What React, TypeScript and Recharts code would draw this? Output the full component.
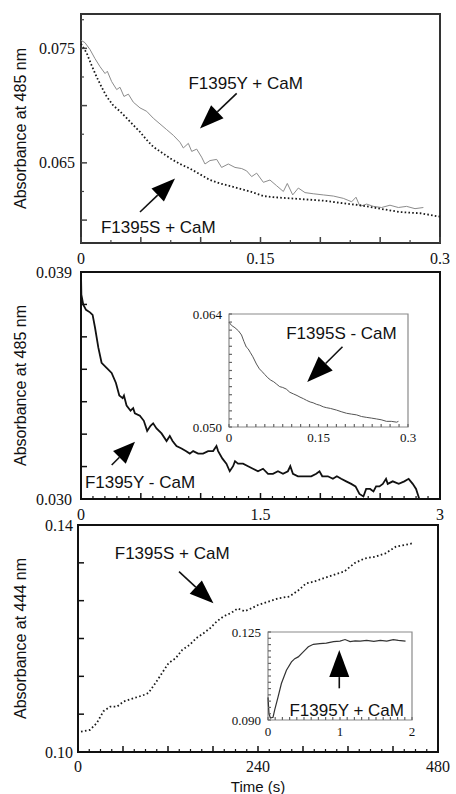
import { LineChart, Line, XAxis, YAxis, ReferenceArea, ReferenceLine, ReferenceDot } from "recharts"

const SERIF = '"Liberation Serif", "Times New Roman", serif'
const SANS = '"Liberation Sans", Arial, Helvetica, sans-serif'

// top panel: absorbance at 485 nm, with CaM (0 - 0.3 s)
const topTimeY = [0, 0.0033, 0.0075, 0.0117, 0.0159, 0.0201, 0.022, 0.0256, 0.0298, 0.0326, 0.0359, 0.0396, 0.0437, 0.0493, 0.0549, 0.0604, 0.066, 0.0716, 0.0772, 0.0827, 0.0855, 0.0897, 0.0925, 0.0967, 0.1008, 0.1036, 0.1078, 0.1134, 0.1175, 0.1231, 0.1287, 0.1343, 0.1384, 0.1426, 0.1468, 0.1524, 0.1579, 0.1635, 0.1691, 0.1724, 0.1769, 0.1816, 0.1872, 0.1941, 0.2025, 0.2109, 0.2192, 0.2262, 0.2298, 0.2331, 0.2387, 0.2443, 0.2512, 0.2582, 0.2652, 0.2721, 0.2791, 0.2861]
const f1395yCaM = [0.0757, 0.0755, 0.0749, 0.0741, 0.0734, 0.0728, 0.073, 0.0721, 0.0714, 0.0716, 0.0708, 0.071, 0.0703, 0.0698, 0.0695, 0.0689, 0.0684, 0.0679, 0.0674, 0.0668, 0.0663, 0.0667, 0.066, 0.0662, 0.0655, 0.0649, 0.0652, 0.0653, 0.0646, 0.0649, 0.0646, 0.0645, 0.0643, 0.0638, 0.0641, 0.0633, 0.0635, 0.063, 0.0625, 0.0632, 0.0622, 0.0628, 0.0624, 0.0623, 0.0622, 0.0621, 0.0619, 0.0616, 0.062, 0.0612, 0.0614, 0.0612, 0.0611, 0.0613, 0.0611, 0.0612, 0.061, 0.0611]
const topTimeS = [0, 0.0047, 0.0089, 0.0131, 0.0173, 0.0214, 0.027, 0.0326, 0.0382, 0.0437, 0.0493, 0.0549, 0.0604, 0.066, 0.0744, 0.0827, 0.0911, 0.0994, 0.1078, 0.1162, 0.1273, 0.1412, 0.1524, 0.1607, 0.1747, 0.1886, 0.2025, 0.2164, 0.2331, 0.2498, 0.2666, 0.2833, 0.3]
const f1395sCaM = [0.0754, 0.0746, 0.0735, 0.0725, 0.0716, 0.0708, 0.07, 0.0695, 0.0689, 0.0683, 0.0677, 0.067, 0.0664, 0.066, 0.0654, 0.0649, 0.0645, 0.064, 0.0635, 0.0632, 0.0629, 0.0625, 0.0621, 0.062, 0.0619, 0.0618, 0.0617, 0.0615, 0.0613, 0.061, 0.0607, 0.0606, 0.0603]

// middle panel: 485 nm without CaM (0 - 3 s), inset 0 - 0.3 s
const midTime = [0, 0.003, 0.019, 0.042, 0.075, 0.097, 0.117, 0.145, 0.172, 0.214, 0.256, 0.292, 0.32, 0.348, 0.359, 0.381, 0.414, 0.436, 0.45, 0.492, 0.525, 0.553, 0.581, 0.603, 0.631, 0.673, 0.715, 0.742, 0.765, 0.798, 0.84, 0.876, 0.909, 0.937, 0.979, 1.02, 1.062, 1.104, 1.132, 1.146, 1.182, 1.215, 1.243, 1.271, 1.287, 1.312, 1.354, 1.396, 1.437, 1.479, 1.521, 1.563, 1.604, 1.646, 1.688, 1.729, 1.749, 1.771, 1.813, 1.868, 1.924, 1.966, 1.993, 2.016, 2.063, 2.105, 2.138, 2.174, 2.216, 2.258, 2.294, 2.327, 2.36, 2.383, 2.416, 2.444, 2.466, 2.494, 2.522, 2.549, 2.563, 2.605, 2.655, 2.702, 2.738, 2.772, 2.8, 2.827]
const f1395yNoCaM = [0.0389, 0.0381, 0.0377, 0.0375, 0.0374, 0.0373, 0.0368, 0.036, 0.0354, 0.0352, 0.035, 0.0346, 0.0341, 0.034, 0.0341, 0.0337, 0.0335, 0.0336, 0.0334, 0.0333, 0.0331, 0.0327, 0.0329, 0.033, 0.0328, 0.0326, 0.0323, 0.0325, 0.0323, 0.0321, 0.032, 0.0319, 0.0318, 0.0319, 0.0318, 0.0318, 0.0319, 0.0319, 0.0321, 0.0319, 0.0316, 0.0314, 0.0311, 0.0313, 0.0315, 0.0314, 0.0314, 0.0313, 0.0312, 0.0311, 0.0312, 0.031, 0.031, 0.0311, 0.031, 0.0311, 0.0313, 0.031, 0.0309, 0.0309, 0.0309, 0.031, 0.0311, 0.0309, 0.0309, 0.0308, 0.0309, 0.0308, 0.0307, 0.0306, 0.0305, 0.0302, 0.0301, 0.0304, 0.0304, 0.0303, 0.0305, 0.0305, 0.0306, 0.0308, 0.0306, 0.0307, 0.0306, 0.0307, 0.0308, 0.0306, 0.0304, 0.03]
const insetTimeS = [0, 0.004, 0.01, 0.016, 0.021, 0.025, 0.029, 0.032, 0.036, 0.04, 0.046, 0.051, 0.055, 0.06, 0.065, 0.07, 0.075, 0.08, 0.085, 0.09, 0.096, 0.102, 0.108, 0.114, 0.119, 0.125, 0.13, 0.136, 0.141, 0.147, 0.152, 0.158, 0.163, 0.17, 0.18, 0.188, 0.197, 0.205, 0.214, 0.222, 0.23, 0.239, 0.247, 0.255, 0.264, 0.272, 0.281, 0.284]
const f1395sNoCaM = [0.063, 0.0626, 0.0623, 0.0619, 0.0614, 0.0606, 0.0599, 0.0597, 0.0592, 0.0587, 0.0578, 0.0572, 0.0569, 0.0565, 0.0561, 0.0558, 0.0556, 0.0553, 0.055, 0.0549, 0.0547, 0.0543, 0.0541, 0.0539, 0.0537, 0.0535, 0.0533, 0.0531, 0.053, 0.0528, 0.0527, 0.0525, 0.0524, 0.0523, 0.0521, 0.0519, 0.0517, 0.0516, 0.0515, 0.0513, 0.0512, 0.0511, 0.051, 0.0509, 0.0507, 0.0507, 0.0506, 0.0507]

// bottom panel: 444 nm (0 - 480 s), inset 0 - 2 s
const lowTime = [4, 16, 25, 34, 43, 52, 61, 75, 89, 94, 103, 112, 121, 130, 139, 149, 158, 167, 176, 185, 194, 204, 213, 222, 231, 240, 254, 268, 282, 295, 304, 314, 327, 341, 355, 369, 382, 396, 410, 424, 437, 447]
const f1395s444 = [0.1036, 0.1039, 0.1051, 0.1072, 0.108, 0.108, 0.1089, 0.1095, 0.1101, 0.1104, 0.1121, 0.1139, 0.1157, 0.1165, 0.118, 0.1189, 0.1201, 0.1209, 0.1218, 0.123, 0.1239, 0.1245, 0.1253, 0.1248, 0.1253, 0.1259, 0.1265, 0.1271, 0.1274, 0.1286, 0.1297, 0.13, 0.1306, 0.1312, 0.1318, 0.1333, 0.1341, 0.1344, 0.135, 0.1362, 0.1365, 0.1368]
const insetTimeY = [0, 0.014, 0.033, 0.07, 0.093, 0.14, 0.186, 0.256, 0.326, 0.372, 0.42, 0.49, 0.56, 0.63, 0.72, 0.81, 0.91, 1.0, 1.07, 1.14, 1.21, 1.28, 1.37, 1.47, 1.56, 1.65, 1.74, 1.81, 1.91]
const f1395y444 = [0.099, 0.0925, 0.0908, 0.0911, 0.094, 0.0992, 0.1045, 0.1098, 0.1131, 0.1144, 0.1151, 0.1171, 0.1191, 0.1201, 0.1204, 0.1206, 0.1212, 0.1214, 0.122, 0.1212, 0.1215, 0.1214, 0.1217, 0.1213, 0.1217, 0.1214, 0.122, 0.1217, 0.1214]

// tick labels
const topXLabels = [0, 0.15, 0.3]
const topYLabels = [0.065, 0.075]
const midXLabels = [0, 1.5, 3]
const midYLabels = [0.03, 0.039]
const lowXLabels = [0, 240, 480]
const lowYLabels = [0.1, 0.14]
const inset1XLabels = [0, 0.15, 0.3]
const inset1YLabels = [0.05, 0.064]
const inset2XLabels = [0, 1, 2]
const inset2YLabels = [0.09, 0.125]

const steps = (a: number, b: number, n: number) =>
  Array.from({ length: n + 1 }, (_, i) => +(a + ((b - a) * i) / n).toFixed(6))
const has = (arr: number[], v: number) => arr.some((a) => Math.abs(a - v) < 1e-7)
const pts = (xs: number[], ys: number[]) => xs.map((x, i) => ({ x, y: ys[i] }))

const xTick = (labels: number[], majors: number[], gap: number, size: number, fmt: (v: number) => string, color = "#111") =>
  (p: any) => {
    const v = p.payload.value
    const base = p.y - gap
    const big = has(majors, v)
    return (
      <g>
        <line x1={p.x} x2={p.x} y1={base} y2={base - (big ? 6 : 3)} stroke={color} strokeWidth={big ? 1.5 : 1.2} />
        {has(labels, v) && (
          <text x={p.x} y={p.y} dy="0.71em" textAnchor="middle" fontFamily={SERIF} fontSize={size} fill="#111">
            {fmt(v)}
          </text>
        )}
      </g>
    )
  }

const yTick = (labels: number[], majors: number[], gap: number, size: number, fmt: (v: number) => string, color = "#111") =>
  (p: any) => {
    const v = p.payload.value
    const base = p.x + gap
    const big = has(majors, v)
    return (
      <g>
        <line x1={base} x2={base + (big ? 6 : 3)} y1={p.y} y2={p.y} stroke={color} strokeWidth={big ? 1.5 : 1.2} />
        {has(labels, v) && (
          <text x={p.x} y={p.y} dy="0.35em" textAnchor="end" fontFamily={SERIF} fontSize={size} fill="#111">
            {fmt(v)}
          </text>
        )}
      </g>
    )
  }

const arrow = (head = 24, half = 9) => (p: any) => {
  const { x1, y1, x2, y2 } = p
  const len = Math.hypot(x2 - x1, y2 - y1) || 1
  const ux = (x2 - x1) / len
  const uy = (y2 - y1) / len
  const bx = x2 - ux * head
  const by = y2 - uy * head
  return (
    <g>
      <line x1={x1} y1={y1} x2={bx} y2={by} stroke="#111" strokeWidth={1.6} />
      <polygon points={`${x2},${y2} ${bx - uy * half},${by + ux * half} ${bx + uy * half},${by - ux * half}`} fill="#000" />
    </g>
  )
}

const note = (value: string, size = 17) => ({ value, position: "center" as const, fontSize: size, fontFamily: SANS, fill: "#111" })

const yTitle = (value: string) => ({
  value,
  angle: -90,
  position: "insideLeft" as const,
  offset: 20,
  style: { textAnchor: "middle" },
  fontSize: 16,
  fontFamily: SANS,
  fill: "#111",
})

const abs = (left: number, top: number) => ({ position: "absolute" as const, left, top })

function TopPanel() {
  return (
    <div style={abs(0, 0)}>
      <LineChart width={456} height={275} margin={{ top: 14, right: 16, bottom: 2, left: 0 }}>
        <XAxis dataKey="x" type="number" domain={[0, 0.3]} ticks={steps(0, 0.3, 12)} interval={0} axisLine={false} tickLine={false} tickSize={0} tickMargin={10} height={30}
          tick={xTick(topXLabels, steps(0, 0.3, 6), 10, 16, (v) => String(v), "#444")} />
        <YAxis type="number" domain={[0.058, 0.078]} ticks={steps(0.06, 0.0775, 7)} interval={0} axisLine={false} tickLine={false} tickSize={0} tickMargin={6} width={81}
          tick={yTick(topYLabels, [0.06, 0.065, 0.07, 0.075], 6, 16, (v) => v.toFixed(3), "#444")} label={yTitle("Absorbance at 485 nm")} />
        <Line data={pts(topTimeY, f1395yCaM)} dataKey="y" type="linear" dot={false} stroke="#8c8c8c" strokeWidth={1} isAnimationActive={false} />
        <Line data={pts(topTimeS, f1395sCaM)} dataKey="y" type="linear" dot={false} stroke="#1a1a1a" strokeWidth={1.8} strokeDasharray="1.6 2.2" isAnimationActive={false} />
        <ReferenceArea x1={0} x2={0.3} y1={0.058} y2={0.078} fill="none" stroke="#333" strokeWidth={2} ifOverflow="visible" />
        <ReferenceLine segment={[{ x: 0.1301, y: 0.07107 }, { x: 0.0994, y: 0.06801 }]} shape={arrow()} />
        <ReferenceLine segment={[{ x: 0.0493, y: 0.06071 }, { x: 0.0786, y: 0.06363 }]} shape={arrow()} />
        <ReferenceDot x={0.1376} y={0.07199} r={0} fill="none" stroke="none" label={note("F1395Y + CaM")} />
        <ReferenceDot x={0.0646} y={0.0594} r={0} fill="none" stroke="none" label={note("F1395S + CaM")} />
      </LineChart>
    </div>
  )
}

function MidPanel() {
  return (
    <div style={abs(0, 262)}>
      <LineChart width={456} height={270} margin={{ top: 10, right: 16, bottom: 3, left: 0 }}>
        <XAxis dataKey="x" type="number" domain={[0, 3]} ticks={steps(0, 3, 30)} interval={0} axisLine={false} tickLine={false} tickSize={0} tickMargin={10} height={30}
          tick={xTick(midXLabels, steps(0, 3, 6), 10, 16, (v) => String(v))} />
        <YAxis type="number" domain={[0.03, 0.039]} ticks={steps(0.03, 0.039, 7)} interval={0} axisLine={false} tickLine={false} tickSize={0} tickMargin={9} width={81}
          tick={yTick(midYLabels, steps(0.03, 0.039, 7), 9, 16, (v) => v.toFixed(3))} label={yTitle("Absorbance at 485 nm")} />
        <Line data={pts(midTime, f1395yNoCaM)} dataKey="y" type="linear" dot={false} stroke="#111" strokeWidth={1.8} isAnimationActive={false} />
        <ReferenceArea x1={0} x2={3} y1={0.03} y2={0.039} fill="none" stroke="#111" strokeWidth={2} ifOverflow="visible" />
        <ReferenceLine segment={[{ x: 0.2565, y: 0.03135 }, { x: 0.4513, y: 0.03227 }]} shape={arrow(22, 9)} />
        <ReferenceDot x={0.493} y={0.03069} r={0} fill="none" stroke="none" label={note("F1395Y - CaM")} />
      </LineChart>
    </div>
  )
}

function MidInset() {
  return (
    <div style={abs(149, 304)}>
      <LineChart width={270} height={150} margin={{ top: 10, right: 11, bottom: 5, left: 0 }}>
        <XAxis dataKey="x" type="number" domain={[0, 0.3]} ticks={steps(0, 0.3, 20)} interval={0} axisLine={false} tickLine={false} tickSize={0} tickMargin={6} height={22}
          tick={xTick(inset1XLabels, [], 6, 13, (v) => String(v), "#666")} />
        <YAxis type="number" domain={[0.05, 0.064]} ticks={steps(0.05, 0.064, 14)} interval={0} axisLine={false} tickLine={false} tickSize={0} tickMargin={7} width={80}
          tick={yTick(inset1YLabels, [], 7, 13, (v) => v.toFixed(3), "#666")} />
        <Line data={pts(insetTimeS, f1395sNoCaM)} dataKey="y" type="linear" dot={false} stroke="#555" strokeWidth={1} isAnimationActive={false} />
        <ReferenceArea x1={0} x2={0.3} y1={0.05} y2={0.064} fill="none" stroke="#8a8a8a" strokeWidth={1.2} ifOverflow="visible" />
        <ReferenceLine segment={[{ x: 0.1902, y: 0.05994 }, { x: 0.1311, y: 0.05559 }]} shape={arrow(26, 10)} />
        <ReferenceDot x={0.1885} y={0.06168} r={0} fill="none" stroke="none" label={note("F1395S - CaM")} />
      </LineChart>
    </div>
  )
}

function LowPanel() {
  return (
    <div style={abs(0, 515)}>
      <LineChart width={456} height={279} margin={{ top: 10, right: 18, bottom: 0, left: 0 }}>
        <XAxis dataKey="x" type="number" domain={[0, 480]} ticks={steps(0, 480, 32)} interval={0} axisLine={false} tickLine={false} tickSize={0} tickMargin={9} height={42}
          tick={xTick(lowXLabels, steps(0, 480, 8), 9, 16, (v) => String(v))}
          label={{ value: "Time (s)", position: "insideBottom", offset: 2, fontSize: 15, fontFamily: SANS, fill: "#111" }} />
        <YAxis type="number" domain={[0.1, 0.14]} ticks={steps(0.1, 0.14, 6)} interval={0} axisLine={false} tickLine={false} tickSize={0} tickMargin={5} width={78}
          tick={yTick(lowYLabels, steps(0.1, 0.14, 6), 5, 16, (v) => v.toFixed(2))} label={yTitle("Absorbance at 444 nm")} />
        <Line data={pts(lowTime, f1395s444)} dataKey="y" type="linear" dot={false} stroke="#1a1a1a" strokeWidth={1.8} strokeDasharray="1.6 2.4" isAnimationActive={false} />
        <ReferenceArea x1={0} x2={480} y1={0.1} y2={0.14} fill="none" stroke="#111" strokeWidth={2} ifOverflow="visible" />
        <ReferenceLine segment={[{ x: 134.7, y: 0.13177 }, { x: 180.6, y: 0.1262 }]} shape={arrow(24, 9)} />
        <ReferenceDot x={125.6} y={0.135} r={0} fill="none" stroke="none" label={note("F1395S + CaM")} />
      </LineChart>
    </div>
  )
}

function LowInset() {
  return (
    <div style={abs(188, 621)}>
      <LineChart width={240} height={125} margin={{ top: 11, right: 16, bottom: 6, left: 0 }}>
        <XAxis dataKey="x" type="number" domain={[0, 2]} ticks={steps(0, 2, 20)} interval={0} axisLine={false} tickLine={false} tickSize={0} tickMargin={7} height={20}
          tick={xTick(inset2XLabels, [], 7, 13, (v) => String(v), "#666")} />
        <YAxis type="number" domain={[0.09, 0.125]} ticks={steps(0.09, 0.125, 14)} interval={0} axisLine={false} tickLine={false} tickSize={0} tickMargin={7} width={80}
          tick={yTick(inset2YLabels, [], 7, 13, (v) => v.toFixed(3), "#666")} />
        <Line data={pts(insetTimeY, f1395y444)} dataKey="y" type="linear" dot={false} stroke="#333" strokeWidth={1.2} isAnimationActive={false} />
        <ReferenceArea x1={0} x2={2} y1={0.09} y2={0.125} fill="none" stroke="#8a8a8a" strokeWidth={1.2} ifOverflow="visible" />
        <ReferenceLine segment={[{ x: 0.99, y: 0.1026 }, { x: 0.99, y: 0.1178 }]} shape={arrow(27, 10)} />
        <ReferenceDot x={1.093} y={0.09385} r={0} fill="none" stroke="none" label={note("F1395Y + CaM")} />
      </LineChart>
    </div>
  )
}

export default function App() {
  return (
    <div style={{ position: "absolute", left: 0, top: 0, width: 456, height: 794, background: "#fff", overflow: "hidden" }}>
      <TopPanel />
      <MidPanel />
      <MidInset />
      <LowPanel />
      <LowInset />
    </div>
  )
}
